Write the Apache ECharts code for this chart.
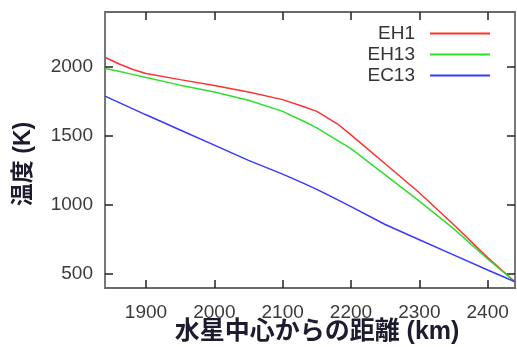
<!DOCTYPE html>
<html>
<head>
<meta charset="utf-8">
<script src="https://cdn.jsdelivr.net/npm/echarts@6/dist/echarts.min.js"></script>
<style>
  html, body { margin: 0; padding: 0; background: #fff; }
  #chart { width: 517px; height: 347px; }
</style>
</head>
<body>
<div id="chart"></div>
<script>
// distance from Mercury's centre (km)
const distance = [1840, 1860, 1880, 1900, 1950, 2000, 2050, 2100, 2130, 2150, 2180, 2200, 2250, 2300, 2350, 2400, 2440];
// temperature (K)
const eh1 =  [2072, 2025, 1985, 1955, 1910, 1868, 1820, 1765, 1715, 1680, 1590, 1510, 1300, 1090, 860, 620, 445];
const eh13 = [1990, 1970, 1948, 1925, 1870, 1820, 1760, 1680, 1610, 1560, 1470, 1410, 1220, 1030, 830, 610, 445];
const ec13 = [1790, 1745, 1700, 1655, 1545, 1435, 1325, 1225, 1160, 1115, 1040, 990, 860, 750, 640, 530, 445];

const xTicks = [1900, 2000, 2100, 2200, 2300, 2400];
const yTicks = [500, 1000, 1500, 2000];

const font = '"Liberation Sans", "Noto Sans CJK JP", sans-serif';

const chart = echarts.init(document.getElementById('chart'));

const pairs = (ys) => distance.map((d, i) => [d, ys[i]]);

function ticks(values) {
  return { show: true, inside: true, length: 8, customValues: values, lineStyle: { color: '#222', width: 1.5 } };
}
function labels(values, margin) {
  return {
    show: true, customValues: values, margin: margin,
    color: '#3a3a3a', fontSize: 19, fontFamily: font,
    formatter: (v) => String(v),
  };
}

const option = {
  animation: false,
  backgroundColor: '#fff',
  grid: {
    left: 105, right: 2, top: 12, bottom: 59,
    show: true, borderColor: '#6a6a6a', borderWidth: 1.8,
  },
  legend: {
    orient: 'vertical',
    right: 22,
    top: 19,
    align: 'right',
    itemWidth: 60,
    itemHeight: 2,
    itemGap: 2,
    icon: 'rect',
    textStyle: { fontSize: 19, color: '#333', fontFamily: font, padding: [0, 10, 0, 0] },
    data: ['EH1', 'EH13', 'EC13'],
  },
  xAxis: [
    {
      type: 'value', min: 1840, max: 2440, position: 'bottom',
      axisLine: { show: false }, splitLine: { show: false },
      axisTick: ticks(xTicks), axisLabel: labels(xTicks, 15),
    },
    {
      type: 'value', min: 1840, max: 2440, position: 'top',
      axisLine: { show: false }, splitLine: { show: false },
      axisTick: ticks(xTicks), axisLabel: { show: false },
    },
  ],
  yAxis: [
    {
      type: 'value', min: 400, max: 2400, position: 'left',
      axisLine: { show: false }, splitLine: { show: false },
      axisTick: ticks(yTicks), axisLabel: labels(yTicks, 12),
    },
    {
      type: 'value', min: 400, max: 2400, position: 'right',
      axisLine: { show: false }, splitLine: { show: false },
      axisTick: ticks(yTicks), axisLabel: { show: false },
    },
  ],
  graphic: [
    {
      type: 'text', x: 317, y: 332,
      style: {
        text: '水星中心からの距離 (km)', fill: '#1c1c2e',
        font: 'bold 25px ' + font, align: 'center', verticalAlign: 'middle',
      },
    },
    {
      type: 'text', x: 24, y: 164, rotation: Math.PI / 2,
      style: {
        text: '温度 (K)', fill: '#1c1c2e',
        font: 'bold 23px ' + font, align: 'center', verticalAlign: 'middle',
      },
    },
  ],
  series: [
    { name: 'EH1', type: 'line', data: pairs(eh1), showSymbol: false, color: '#ff3030', lineStyle: { width: 1.5 } },
    { name: 'EH13', type: 'line', data: pairs(eh13), showSymbol: false, color: '#30dd30', lineStyle: { width: 1.5 } },
    { name: 'EC13', type: 'line', data: pairs(ec13), showSymbol: false, color: '#3838ff', lineStyle: { width: 1.5 } },
  ],
};

chart.setOption(option);
</script>
</body>
</html>
